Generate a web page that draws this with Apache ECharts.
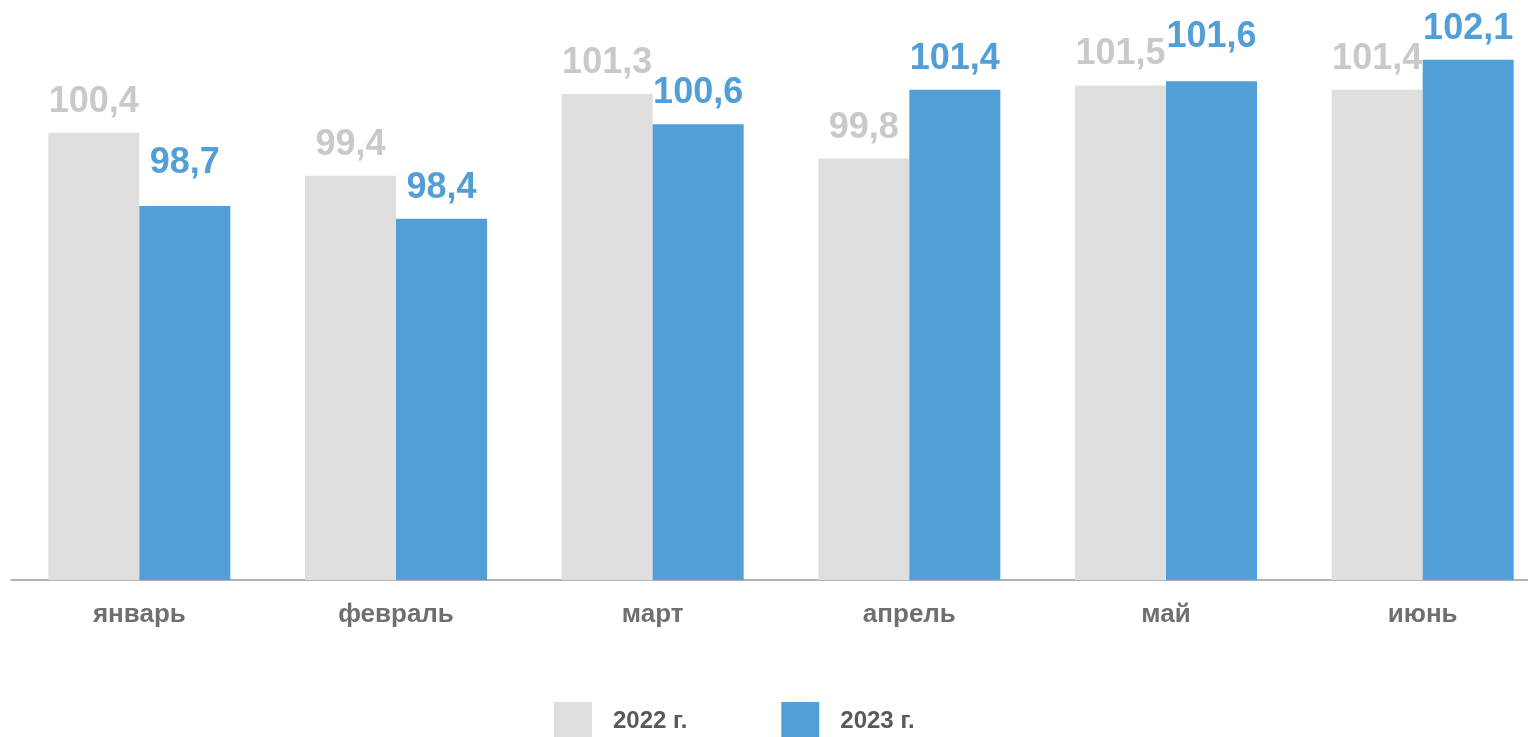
<!DOCTYPE html>
<html>
<head>
<meta charset="utf-8">
<script src="https://cdn.jsdelivr.net/npm/echarts@6/dist/echarts.min.js"></script>
<style>
  html, body { margin: 0; padding: 0; background: #ffffff; }
  #chart { width: 1528px; height: 737px; }
</style>
</head>
<body>
<div id="chart"></div>
<script>
  // месяцы и индексы (в процентах к предыдущему месяцу)
  var months = ['январь', 'февраль', 'март', 'апрель', 'май', 'июнь'];
  var seriesNames = ['2022 г.', '2023 г.'];
  var values2022 = [100.4, 99.4, 101.3, 99.8, 101.5, 101.4];
  var values2023 = [98.7, 98.4, 100.6, 101.4, 101.6, 102.1];

  var grayBar = '#dfdfdf';
  var grayText = '#c9c9c9';
  var blueBar = '#529fd7';
  // подписи, приподнятые над столбиком (индекс месяца -> доп. отступ)
  var blueLift = { 0: 12, 4: 13 };

  function fmt(v) {
    return v.toFixed(1).replace('.', ',');
  }

  function labelStyle(color) {
    return {
      show: true,
      position: 'top',
      distance: 13,
      color: color,
      fontFamily: 'Liberation Sans, Arial, sans-serif',
      fontWeight: 'bold',
      fontSize: 36,
      formatter: function (p) { return fmt(p.value); }
    };
  }

  var chart = echarts.init(document.getElementById('chart'));
  chart.setOption({
    animation: false,
    grid: {
      left: 11, top: 21, width: 1540, bottom: 157,
      containLabel: false,
      outerBoundsMode: 'none'
    },
    legend: {
      data: seriesNames,
      left: 554,
      top: 702,
      padding: 0,
      itemWidth: 38,
      itemHeight: 38,
      itemGap: 94,
      icon: 'rect',
      textStyle: {
        fontFamily: 'Liberation Sans, Arial, sans-serif',
        fontWeight: 'bold',
        fontSize: 24,
        color: '#595959',
        padding: [0, 0, 0, 16]
      }
    },
    xAxis: {
      type: 'category',
      data: months,
      axisLine: { lineStyle: { color: '#999999', width: 1.5 } },
      axisTick: { show: false },
      axisLabel: {
        margin: 22,
        color: '#6f6f6f',
        fontFamily: 'Liberation Sans, Arial, sans-serif',
        fontWeight: 'bold',
        fontSize: 26
      }
    },
    yAxis: {
      type: 'value',
      min: 90,
      max: 103,
      show: false,
      splitLine: { show: false }
    },
    series: [
      {
        name: seriesNames[0],
        type: 'bar',
        barWidth: 91,
        barGap: '0%',
        itemStyle: { color: grayBar },
        label: labelStyle(grayText),
        data: values2022
      },
      {
        name: seriesNames[1],
        type: 'bar',
        barWidth: 91,
        barGap: '0%',
        itemStyle: { color: blueBar },
        label: labelStyle(blueBar),
        data: values2023.map(function (v, i) {
          if (blueLift[i]) {
            return { value: v, label: { distance: 13 + blueLift[i] } };
          }
          return v;
        })
      }
    ]
  });
</script>
</body>
</html>
